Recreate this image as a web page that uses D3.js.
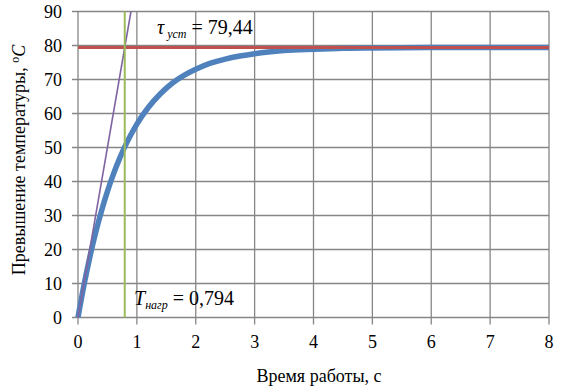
<!DOCTYPE html>
<html><head><meta charset="utf-8">
<script src="https://cdn.jsdelivr.net/npm/d3@7"></script>
<style>
body{margin:0;background:#fff;font-family:"Times New Roman","Liberation Serif",Tinos}
svg, svg text, svg tspan{font-family:"Times New Roman","Liberation Serif",Tinos !important}
</style>
</head><body>
<svg id="c" width="561" height="388"></svg>
<script>
const timeValues = [0,0.1,0.2,0.3,0.4,0.5,0.6,0.7,0.8,0.9,1.0,1.2,1.4,1.6,1.8,2.0,2.25,2.5,2.75,3.0,3.5,4.0,4.5,5.0,6.0,7.0,8.0];
const tempValues = [0,9.4,17.7,25.0,31.4,37.1,42.1,46.5,50.4,53.8,56.9,61.9,65.8,68.9,71.2,73.0,74.8,76.0,76.9,77.6,78.5,78.9,79.2,79.3,79.4,79.44,79.44];
const steadyValue = 79.44;
const timeConstant = 0.794;
const xTicks = [0,1,2,3,4,5,6,7,8];
const yTicks = [0,10,20,30,40,50,60,70,80,90];

const svg = d3.select("#c");
const x = d3.scaleLinear().domain([0,8]).range([78,549]);
const y = d3.scaleLinear().domain([0,90]).range([317.5,11.5]);
const grid = "#868686";

// grid
svg.append("g").selectAll("line").data(yTicks).join("line")
  .attr("x1",x(0)-6).attr("x2",x(8)).attr("y1",d=>y(d)).attr("y2",d=>y(d))
  .attr("stroke",grid).attr("stroke-width",1.3);
svg.append("g").selectAll("line").data(xTicks).join("line")
  .attr("y1",y(0)+7).attr("y2",y(90)).attr("x1",d=>x(d)).attr("x2",d=>x(d))
  .attr("stroke",grid).attr("stroke-width",1.3);

// tick labels
svg.append("g").selectAll("text").data(yTicks).join("text")
  .attr("x",62).attr("y",d=>y(d)+6).attr("text-anchor","end")
  .attr("font-size",18).text(d=>d);
svg.append("g").selectAll("text").data(xTicks).join("text")
  .attr("x",d=>x(d)).attr("y",348).attr("text-anchor","middle")
  .attr("font-size",18).text(d=>d);

// axis titles
svg.append("text").attr("x",319).attr("y",382).attr("text-anchor","middle")
  .attr("font-size",18).text("Время работы, с");
const yt = svg.append("text").attr("transform","translate(25,160) rotate(-90)")
  .attr("text-anchor","middle").attr("font-size",18);
yt.append("tspan").text("Превышение температуры, ");
yt.append("tspan").attr("font-size",12).attr("dy",-6).text("o");
yt.append("tspan").attr("dy",6).attr("font-style","italic").text("C");

// blue curve
const pts = timeValues.map((t,i)=>[t,tempValues[i]]);
svg.append("path").datum(pts)
  .attr("d",d3.line().x(d=>x(d[0])).y(d=>y(d[1])).curve(d3.curveMonotoneX))
  .attr("fill","none").attr("stroke","#4f81bd").attr("stroke-width",5.5);

// steady line
svg.append("line").attr("x1",x(0)).attr("x2",x(8)).attr("y1",y(steadyValue)).attr("y2",y(steadyValue))
  .attr("stroke","#c0504d").attr("stroke-width",3);
// tangent line
const slope = steadyValue/timeConstant;
svg.append("line").attr("x1",x(0)).attr("y1",y(0)).attr("x2",x(90/slope)).attr("y2",y(90))
  .attr("stroke","#8064a2").attr("stroke-width",1.6);
// time constant line
svg.append("line").attr("x1",x(timeConstant)).attr("x2",x(timeConstant)).attr("y1",y(0)).attr("y2",y(90))
  .attr("stroke","#9bbb59").attr("stroke-width",2);

// annotations
const a1 = svg.append("text").attr("x",157).attr("y",34).attr("font-size",20);
a1.append("tspan").attr("font-style","italic").text("τ");
a1.append("tspan").attr("font-style","italic").attr("font-size",12).attr("dy",4).text(" уст");
a1.append("tspan").attr("dy",-4).text(" = 79,44");
const a2 = svg.append("text").attr("x",134).attr("y",305).attr("font-size",20);
a2.append("tspan").attr("font-style","italic").text("T");
a2.append("tspan").attr("font-style","italic").attr("font-size",12).attr("dy",4).text("нагр");
a2.append("tspan").attr("dy",-4).text(" = 0,794");
</script></body></html>
